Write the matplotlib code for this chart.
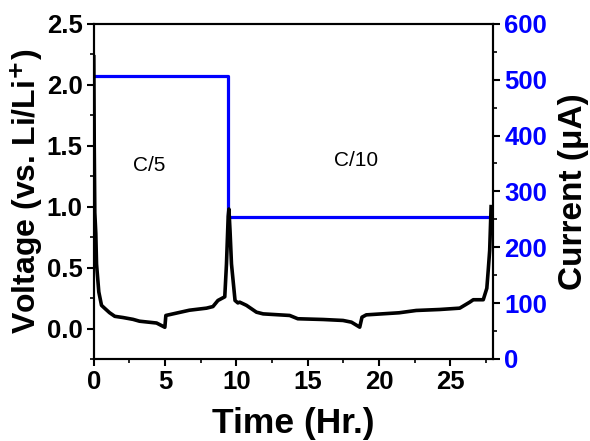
import numpy as np
import matplotlib
matplotlib.use("Agg")
import matplotlib.pyplot as plt
from matplotlib.ticker import MultipleLocator

plt.rcParams["font.family"] = ["Liberation Sans", "DejaVu Sans"]

# Voltage profile
time_hr = [0.0, 0.03, 0.07, 0.14, 0.19, 0.35, 0.54, 0.77, 1.1, 1.47, 2.05, 2.75, 3.2,
           4.4, 4.98, 5.05, 5.55, 6.7, 7.9, 8.35, 8.7, 9.18, 9.3, 9.42, 9.47, 9.55,
           9.65, 9.9, 10.1, 10.23, 10.7, 11.4, 11.87, 13.73, 14.3, 16.07, 17.47,
           18.06, 18.64, 18.8, 19.1, 21.4, 22.6, 24.25, 25.65, 26.35, 26.6, 27.3,
           27.55, 27.65, 27.75, 27.85]
voltage = [2.23, 1.5, 0.95, 0.78, 0.53, 0.3, 0.19, 0.165, 0.13, 0.10, 0.09, 0.075, 0.06,
           0.045, 0.01, 0.107, 0.12, 0.15, 0.167, 0.18, 0.23, 0.26, 0.53, 0.92, 0.98, 0.8,
           0.53, 0.23, 0.21, 0.216, 0.19, 0.134, 0.12, 0.107, 0.08, 0.074, 0.066,
           0.052, 0.011, 0.093, 0.112, 0.129, 0.148, 0.156, 0.167, 0.216, 0.236, 0.236,
           0.33, 0.48, 0.64, 1.0]

# Applied current steps
current_time = [0.0, 9.4, 9.4, 27.9]
current_ua = [507, 507, 254, 254]

fig = plt.figure(figsize=(5.9, 4.41), dpi=100)
ax = fig.add_axes([0.159, 0.186, 0.677, 0.76])
ax2 = ax.twinx()

ax.plot(time_hr, voltage, color="black", linewidth=2.6, zorder=3)
ax2.plot(current_time, current_ua, color="#0000ff", linewidth=2.3)

ax.set_zorder(ax2.get_zorder() + 1)
ax.patch.set_visible(False)

ax.set_xlim(0, 28)
ax.set_ylim(-0.25, 2.5)
ax2.set_ylim(0, 600)

ax.xaxis.set_major_locator(MultipleLocator(5))
ax.xaxis.set_minor_locator(MultipleLocator(2.5))
ax.yaxis.set_major_locator(MultipleLocator(0.5))
ax.yaxis.set_minor_locator(MultipleLocator(0.25))
ax2.yaxis.set_major_locator(MultipleLocator(100))
ax2.yaxis.set_minor_locator(MultipleLocator(50))

for a in (ax, ax2):
    for s in a.spines.values():
        s.set_linewidth(1.5)
    a.tick_params(which="major", direction="out", length=5, width=1.5, pad=3)
    a.tick_params(which="minor", direction="out", length=3, width=1.2)

ax.tick_params(labelsize=18.5)
ax2.tick_params(axis="y", labelsize=18.5, labelcolor="#0000ff")
for lab in ax.get_xticklabels() + ax.get_yticklabels() + ax2.get_yticklabels():
    lab.set_fontweight("bold")
ax.set_yticks([0.0, 0.5, 1.0, 1.5, 2.0, 2.5])
ax.set_yticklabels(["0.0", "0.5", "1.0", "1.5", "2.0", "2.5"], fontweight="bold")

ax.set_xlabel("Time (Hr.)", fontsize=25.5, fontweight="bold", labelpad=9)
ax.set_ylabel("Voltage (vs. Li/Li$^{\\mathbf{+}}$)", fontsize=23, fontweight="bold", labelpad=1)
ax2.set_ylabel("Current (\u03bcA)", fontsize=24, fontweight="bold", labelpad=8)

ax.text(3.9, 1.34, "C/5", fontsize=15, ha="center", va="center")
ax.text(18.4, 1.38, "C/10", fontsize=15, ha="center", va="center")

plt.savefig("out.png", dpi=100)
